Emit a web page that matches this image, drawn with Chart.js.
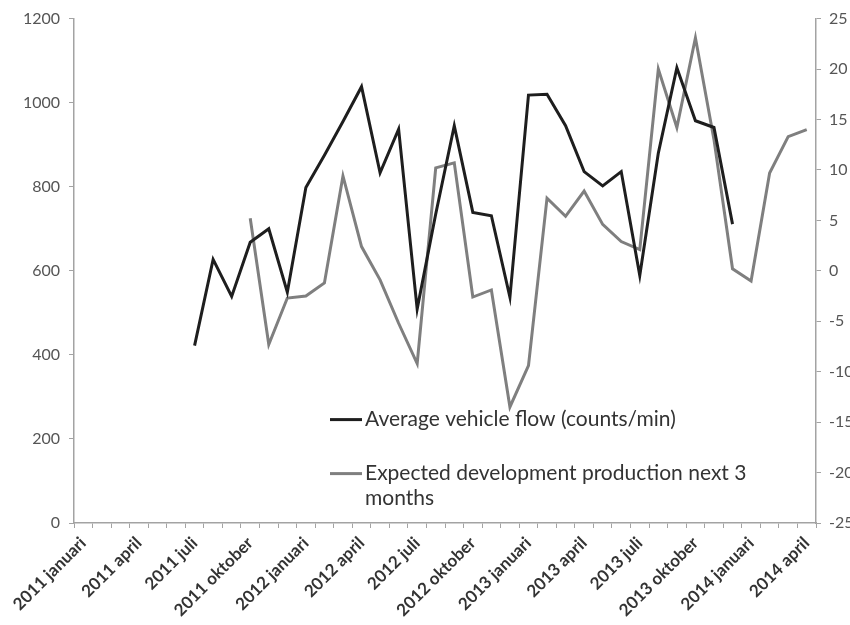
<!DOCTYPE html>
<html>
<head>
<meta charset="utf-8">
<script src="https://cdn.jsdelivr.net/npm/chart.js@4.4.0/dist/chart.umd.min.js"></script>
<style>
  html, body { margin: 0; padding: 0; background: #fff; }
  #wrap { width: 850px; height: 625px; }
</style>
</head>
<body>
<div id="wrap"><canvas id="chart"></canvas></div>
<script>
// --- Data ---
const months = [
    "2011 januari", "2011 februari", "2011 maart", "2011 april", "2011 mei", "2011 juni",
    "2011 juli", "2011 augustus", "2011 september", "2011 oktober", "2011 november", "2011 december",
    "2012 januari", "2012 februari", "2012 maart", "2012 april", "2012 mei", "2012 juni",
    "2012 juli", "2012 augustus", "2012 september", "2012 oktober", "2012 november", "2012 december",
    "2013 januari", "2013 februari", "2013 maart", "2013 april", "2013 mei", "2013 juni",
    "2013 juli", "2013 augustus", "2013 september", "2013 oktober", "2013 november", "2013 december",
    "2014 januari", "2014 februari", "2014 maart", "2014 april"
];

const vehicleFlow = [
    null, null, null, null, null, null,
    422, 627, 539, 668, 700, 549,
    798, 875, 955, 1038, 833, 937,
    509, 735, 945, 739, 731, 537,
    1018, 1020, 945, 836, 802, 836,
    589, 880, 1083, 957, 941, 711,
    null, null, null, null
];

const expectedProduction = [
    null, null, null, null, null, null,
    null, null, null, 5.2, -7.3, -2.7,
    -2.5, -1.2, 9.4, 2.4, -0.9, -5.2,
    -9.2, 10.2, 10.7, -2.6, -1.9, -13.5,
    -9.4, 7.2, 5.4, 7.9, 4.6, 2.9,
    2.1, 20.0, 14.2, 23.1, 13.0, 0.2,
    -1.0, 9.7, 13.3, 14.0
];

const seriesNames = [
    "Average vehicle flow (counts/min)",
    "Expected development production next 3 months"
];

const FONT = "Lato";
const AXIS_GREY = "#a3a3a3";
const TEXT_GREY = "#555555";

// --- Legend drawn inside the plot area ---
const innerLegend = {
    id: "innerLegend",
    afterDatasetsDraw(chart) {
        const { ctx, chartArea } = chart;
        const x0 = chartArea.left + 256;
        let y = chartArea.top + 401;
        const maxWidth = 400;

        ctx.save();
        ctx.font = `21px ${FONT}`;
        ctx.textBaseline = "middle";
        ctx.fillStyle = "#333333";

        chart.data.datasets.forEach(ds => {
            // simple word wrap
            const words = ds.label.split(" ");
            const lines = [];
            let cur = "";
            words.forEach(w => {
                const test = cur ? cur + " " + w : w;
                if (ctx.measureText(test).width > maxWidth && cur) {
                    lines.push(cur);
                    cur = w;
                } else {
                    cur = test;
                }
            });
            lines.push(cur);

            ctx.strokeStyle = ds.borderColor;
            ctx.lineWidth = 3;
            ctx.beginPath();
            ctx.moveTo(x0, y);
            ctx.lineTo(x0 + 32, y);
            ctx.stroke();

            lines.forEach((line, i) => {
                ctx.fillText(line, x0 + 35, y + i * 25);
            });
            y += 54;
        });
        ctx.restore();
    }
};

const ctx = document.getElementById("chart").getContext("2d");

new Chart(ctx, {
    type: "line",
    data: {
        labels: months,
        datasets: [
            {
                label: seriesNames[0],
                data: vehicleFlow,
                yAxisID: "y",
                borderColor: "#1e1e1e",
                borderWidth: 3,
                pointRadius: 0,
                tension: 0
            },
            {
                label: seriesNames[1],
                data: expectedProduction,
                yAxisID: "y1",
                borderColor: "#7f7f7f",
                borderWidth: 3,
                pointRadius: 0,
                tension: 0
            }
        ]
    },
    options: {
        responsive: true,
        maintainAspectRatio: false,
        animation: false,
        layout: { padding: { top: 17, left: 0, right: 0, bottom: 0 } },
        scales: {
            x: {
                offset: true,
                border: { color: AXIS_GREY, width: 1.5 },
                grid: {
                    offset: true,
                    drawOnChartArea: false,
                    drawTicks: true,
                    tickLength: 5,
                    color: AXIS_GREY
                },
                ticks: {
                    autoSkip: false,
                    maxRotation: 45,
                    minRotation: 45,
                    padding: 5,
                    color: "#333333",
                    font: { family: FONT, size: 17, weight: "bold" },
                    callback: function (value, index) {
                        return index % 3 === 0 ? this.getLabelForValue(value) : "";
                    }
                },
                afterFit: scale => { scale.height = 102; }
            },
            y: {
                position: "left",
                min: 0,
                max: 1200,
                border: { color: AXIS_GREY, width: 1.5 },
                grid: {
                    drawOnChartArea: false,
                    drawTicks: true,
                    tickLength: 5,
                    color: AXIS_GREY
                },
                ticks: {
                    stepSize: 200,
                    padding: 9,
                    color: TEXT_GREY,
                    font: { family: FONT, size: 16 },
                    callback: value => String(value)
                },
                afterFit: scale => { scale.width = 74; }
            },
            y1: {
                position: "right",
                min: -25,
                max: 25,
                border: { color: AXIS_GREY, width: 1.5 },
                grid: {
                    drawOnChartArea: false,
                    drawTicks: true,
                    tickLength: 5,
                    color: AXIS_GREY
                },
                ticks: {
                    stepSize: 5,
                    padding: 8,
                    color: TEXT_GREY,
                    font: { family: FONT, size: 16 }
                },
                afterFit: scale => { scale.width = 34; }
            }
        },
        plugins: {
            legend: { display: false },
            tooltip: { enabled: false }
        }
    },
    plugins: [innerLegend]
});
</script>
</body>
</html>
